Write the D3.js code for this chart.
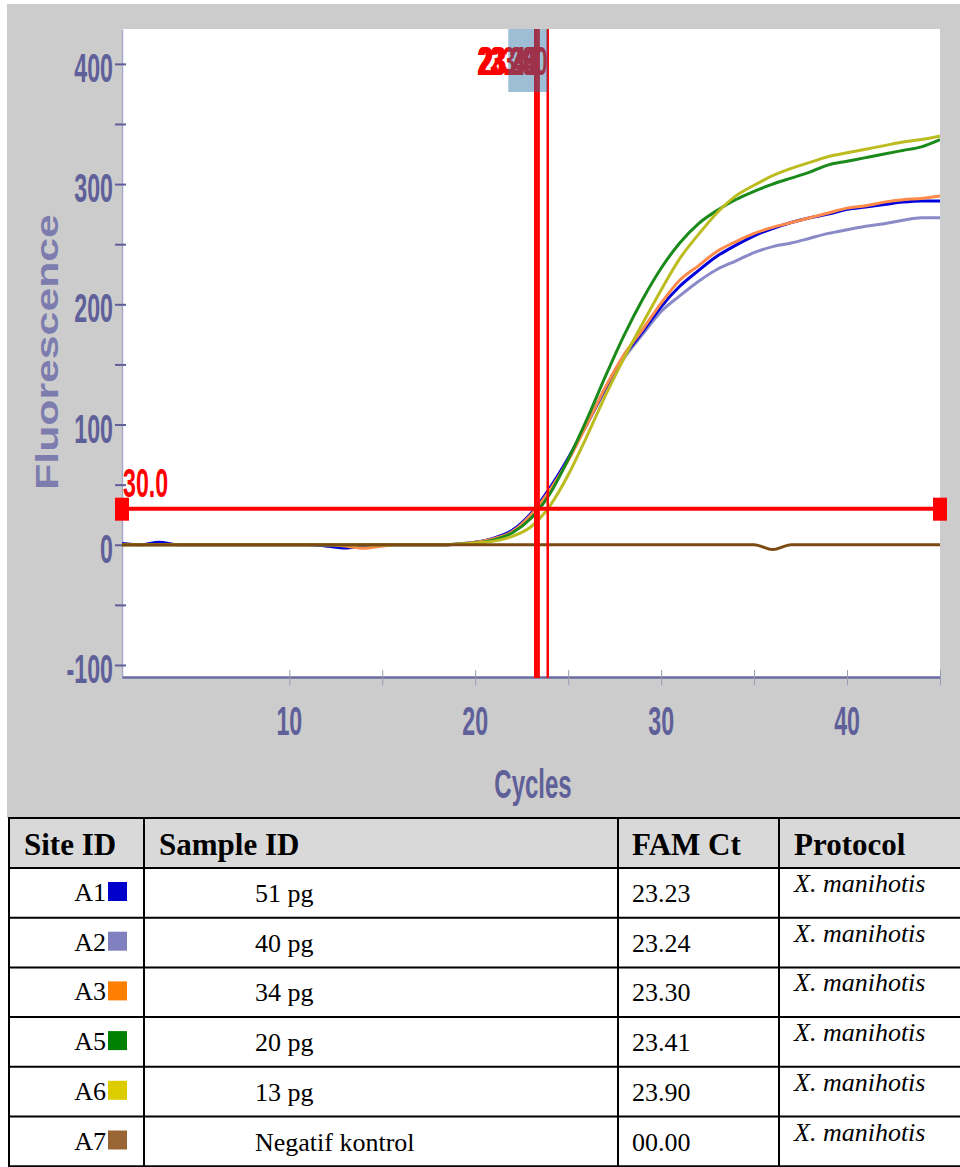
<!DOCTYPE html>
<html>
<head>
<meta charset="UTF-8">
<script src="https://d3js.org/d3.v7.min.js"></script>
<style>
  body { margin: 0; background: #fff; }
  .lbl { font-family: 'Liberation Sans', Arial, sans-serif; font-weight: bold; }
  .tbl { font-family: 'Liberation Serif', 'Times New Roman', serif; fill: #000; }
</style>
</head>
<body>
<svg id="chart" width="960" height="1167"></svg>
<script>
// ---- data ----
const cycles = d3.range(1, 46);
const siteIds = ['A1', 'A2', 'A3', 'A5', 'A6', 'A7'];
const sampleIds = ['51 pg', '40 pg', '34 pg', '20 pg', '13 pg', 'Negatif kontrol'];
const famCt = [23.23, 23.24, 23.30, 23.41, 23.90, 0];
const protocols = ['X. manihotis', 'X. manihotis', 'X. manihotis', 'X. manihotis', 'X. manihotis', 'X. manihotis'];
const swatchColors = ['#0000cc', '#8080c0', '#ff8000', '#008000', '#ddcc00', '#996633'];
const lineColors = ['#0000dd', '#8a8ac8', '#ff8a4a', '#1a8a1a', '#bcbc20', '#7a4a12'];

const a1 = [1, 0, 2, 0, 0, 0, 0, 0, 0, 0, 0, -1, -2.5, -0.5, 0, 0, 0, 0, 0.5, 2, 5.5, 12, 26, 47, 72, 100, 130, 157, 177, 198,
            215, 228, 240, 249, 257, 263, 268, 272, 275, 279, 281, 283, 285, 286, 286];
const a2 = [0, 0, 0, 0, 0, 0, 0, 0, 0, 0, 0, -1, -3, -0.5, 0, 0, 0, 0, 0.5, 2, 5.5, 12, 26, 46, 72, 100, 129, 155, 175, 194,
            207, 219, 229, 236, 243, 248, 251, 255, 259, 262, 265, 267, 270, 272, 272];
const a3 = [0, 0, 0, 0, 0, 0, 0, 0, 0, 0, 0, 0, -1, -3, -1, 0, 0, 0, 0.5, 2, 5, 11, 25, 45, 70, 100, 131, 158, 179, 201,
            220, 232, 244, 252, 259, 264, 268, 272, 276, 280, 282, 285, 287, 288, 290];
const a5 = [0, 0, 0, 0, 0, 0, 0, 0, 0, 0, 0, 0, 0, 0, 0, 0, 0, 0, 0.5, 1.5, 4, 10, 22, 42, 71, 104, 140, 174, 204, 230,
            251, 267, 278, 287, 294, 300, 305, 310, 316, 319, 322, 325, 328, 331, 337];
const a6 = [0, 0, 0, 0, 0, 0, 0, 0, 0, 0, 0, 0, 0, 0, 0, 0, 0, 0, 0.5, 1.5, 3, 7, 15, 32, 58, 90, 124, 155, 184, 212,
            238, 258, 276, 290, 299, 307, 313, 318, 323, 326, 329, 332, 335, 337, 340];
const a7 = [0, 0, 0, 0, 0, 0, 0, 0, 0, 0, 0, 0, 0, 0, 0, 0, 0, 0, 0, 0, 0, 0, 0, 0, 0, 0, 0, 0, 0, 0,
            0, 0, 0, 0, 0, -4, 0, 0, 0, 0, 0, 0, 0, 0, 0];
const seriesValues = [a1, a2, a3, a5, a6, a7];
const threshold = 30.0;

const yMajorTicks = [-100, 0, 100, 200, 300, 400];
const yMinorTicks = [-50, 50, 150, 250, 350];
const xMajorTicks = [10, 20, 30, 40];
const xAllTicks = [10, 15, 20, 25, 30, 35, 40, 45];

// ---- layout ----
const svg = d3.select('#chart');
const plot = { left: 122, top: 29, right: 940, bottom: 677 };
const axisColor = '#5f5f99';

const x = d3.scaleLinear().domain([1, 45]).range([plot.left, plot.right]);
const y = d3.scaleLinear().domain([-110, 429]).range([plot.bottom, plot.top]);

// condensed label helper (source font is a narrow, tall face)
function label(g, px, py, str, size, sx, anchor, color) {
  return g.append('text')
    .attr('class', 'lbl')
    .attr('transform', `translate(${px},${py}) scale(${sx},1)`)
    .attr('text-anchor', anchor)
    .attr('font-size', size)
    .attr('fill', color)
    .text(str);
}

// backgrounds
svg.append('rect').attr('x', 7).attr('y', 4).attr('width', 953).attr('height', 814).attr('fill', '#cccccc');
svg.append('rect').attr('x', plot.left).attr('y', plot.top)
  .attr('width', plot.right - plot.left).attr('height', plot.bottom - plot.top).attr('fill', '#ffffff');

svg.append('clipPath').attr('id', 'clip').append('rect')
  .attr('x', plot.left).attr('y', plot.top)
  .attr('width', plot.right - plot.left).attr('height', plot.bottom - plot.top);

// y axis
const yAxisG = svg.append('g').attr('transform', `translate(${plot.left},0)`)
  .call(d3.axisLeft(y).tickValues(yMajorTicks.concat(yMinorTicks)).tickSize(7).tickSizeOuter(0).tickFormat(''));
yAxisG.select('.domain').attr('stroke', '#a8a8cc').attr('stroke-width', 1.5);
yAxisG.selectAll('.tick line').attr('stroke', axisColor).attr('stroke-width', 2).attr('x1', 4);

yMajorTicks.forEach(v => label(svg, 113, y(v) + 18, v, 40, 0.58, 'end', axisColor));

// x axis
const xAxisG = svg.append('g').attr('transform', `translate(0,${plot.bottom})`)
  .call(d3.axisBottom(x).tickValues(xAllTicks).tickSize(8).tickSizeOuter(0).tickFormat(''));
xAxisG.select('.domain').attr('stroke', '#6b6ba0').attr('stroke-width', 2.5);
xAxisG.selectAll('.tick line').attr('stroke', '#9a9ab4').attr('stroke-width', 1).attr('y1', -7);

xMajorTicks.forEach(v => label(svg, x(v), 735, v, 40, 0.58, 'middle', axisColor));

label(svg, 533, 798, 'Cycles', 40, 0.6, 'middle', axisColor);
svg.append('text').attr('class', 'lbl')
  .attr('transform', 'translate(58,352) rotate(-90) scale(1.38,1)')
  .attr('text-anchor', 'middle').attr('font-size', 31).attr('fill', '#7c7cae')
  .text('Fluorescence');

// curves
const line = d3.line().x((d, i) => x(cycles[i])).y(d => y(d)).curve(d3.curveMonotoneX);
const drawOrder = [1, 0, 2, 3, 4, 5];
svg.append('g').attr('clip-path', 'url(#clip)')
  .selectAll('path')
  .data(drawOrder)
  .join('path')
  .attr('d', i => line(seriesValues[i]))
  .attr('fill', 'none')
  .attr('stroke', i => lineColors[i])
  .attr('stroke-width', 3)
  .attr('stroke-linejoin', 'round');

// threshold
const ty = y(threshold);
svg.append('line').attr('x1', plot.left).attr('x2', plot.right).attr('y1', ty).attr('y2', ty)
  .attr('stroke', '#ff0000').attr('stroke-width', 4);
[plot.left, plot.right].forEach(px => {
  svg.append('rect').attr('x', px - 7).attr('y', ty - 11).attr('width', 14).attr('height', 23).attr('fill', '#ff0000');
});
label(svg, plot.left + 1, ty - 12, threshold.toFixed(1), 40, 0.58, 'start', '#ff0000');

// Ct lines and labels
const cts = famCt.filter(c => c > 0);
svg.append('g').selectAll('line').data(cts).join('line')
  .attr('x1', d => x(d)).attr('x2', d => x(d))
  .attr('y1', plot.top).attr('y2', plot.bottom + 1)
  .attr('stroke', '#ff0000').attr('stroke-width', 2.5);
cts.forEach(c => label(svg, x(c), 75, c.toFixed(2), 40, 0.58, 'end', '#ff0000'));

// selection box over labels
svg.append('rect')
  .attr('x', x(d3.min(cts)) - 27).attr('y', plot.top)
  .attr('width', x(d3.max(cts)) - x(d3.min(cts)) + 27).attr('height', 63)
  .attr('fill', 'rgb(40,110,165)').attr('opacity', 0.45);

// ---- table ----
const colX = [9, 144, 618, 779, 961];
const headerTop = 818, headerH = 50, rowH = 49.7;
const rowTops = siteIds.map((s, i) => headerTop + headerH + i * rowH);
const tableBottom = headerTop + headerH + siteIds.length * rowH;
const tbl = svg.append('g');

tbl.append('rect').attr('x', colX[0]).attr('y', headerTop).attr('width', colX[4] - colX[0]).attr('height', headerH)
  .attr('fill', '#d9d9d9');

const headers = ['Site ID', 'Sample ID', 'FAM Ct', 'Protocol'];
const headerX = [24, 159, 632, 794];
headers.forEach((h, i) => {
  tbl.append('text').attr('class', 'tbl').attr('x', headerX[i]).attr('y', headerTop + 37)
    .attr('font-size', 31).attr('font-weight', 'bold').text(h);
});

rowTops.forEach((top, i) => {
  tbl.append('text').attr('class', 'tbl').attr('x', 106).attr('y', top + 33)
    .attr('text-anchor', 'end').attr('font-size', 26).text(siteIds[i]);
  tbl.append('rect').attr('x', 108).attr('y', top + 14).attr('width', 19).attr('height', 19)
    .attr('fill', swatchColors[i]);
  tbl.append('text').attr('class', 'tbl').attr('x', 255).attr('y', top + 34)
    .attr('font-size', 26).text(sampleIds[i]);
  tbl.append('text').attr('class', 'tbl').attr('x', 632).attr('y', top + 34)
    .attr('font-size', 26).text(famCt[i].toFixed(2).padStart(5, '0'));
  tbl.append('text').attr('class', 'tbl').attr('x', 794).attr('y', top + 24)
    .attr('font-size', 26).attr('font-style', 'italic').text(protocols[i]);
});

// grid lines
[headerTop, headerTop + headerH].concat(rowTops.slice(1), [tableBottom]).forEach(yy => {
  tbl.append('line').attr('x1', colX[0] - 1).attr('x2', colX[4]).attr('y1', yy).attr('y2', yy)
    .attr('stroke', '#000').attr('stroke-width', 2);
});
colX.slice(0, 4).forEach(xx => {
  tbl.append('line').attr('x1', xx).attr('x2', xx).attr('y1', headerTop).attr('y2', tableBottom)
    .attr('stroke', '#000').attr('stroke-width', 2);
});
</script>
</body>
</html>
